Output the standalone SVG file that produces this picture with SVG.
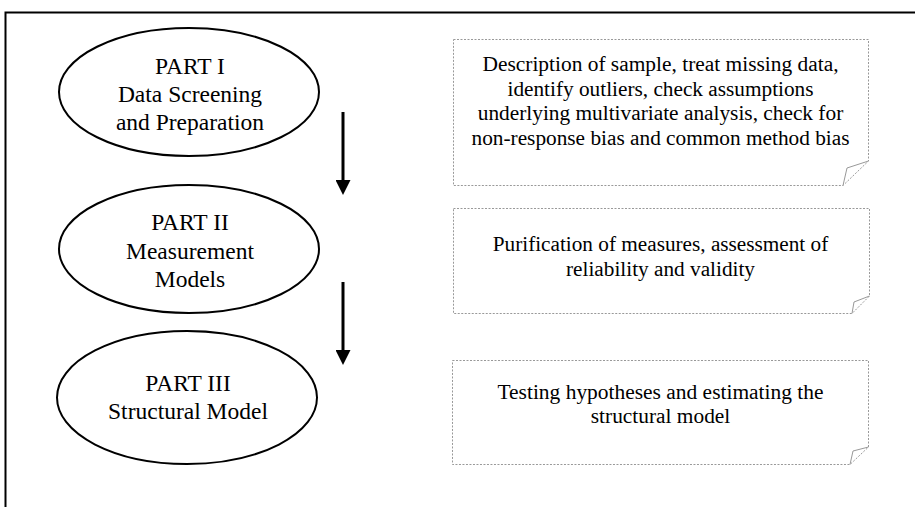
<svg xmlns="http://www.w3.org/2000/svg" width="915" height="507" viewBox="0 0 915 507">
<defs>
<style>
.frame{fill:none;stroke:#000;stroke-width:2}
.ell{fill:#fff;stroke:#000;stroke-width:2}
.note{fill:#fff;stroke:#999;stroke-width:1;stroke-dasharray:2,1.5}
.fold{fill:none;stroke:#999;stroke-width:1}
.t1{font-family:"Liberation Serif","Times New Roman",serif;font-size:23.5px;fill:#000;text-anchor:middle}
.t2{font-family:"Liberation Serif","Times New Roman",serif;font-size:20.5px;fill:#000;text-anchor:middle}
.arr{stroke:#000;stroke-width:3}
</style>
<marker id="ah" markerWidth="5" markerHeight="5" refX="0" refY="2.5" orient="auto" markerUnits="strokeWidth">
<path d="M0,0 L5,2.5 L0,5 Z" fill="#000"/>
</marker>
</defs>
<rect class="frame" x="5.5" y="12.5" width="1000" height="1000"/>
<g id="part1">
<ellipse class="ell" cx="189" cy="92" rx="130" ry="64"/>
<text class="t1" x="190" y="73.5">PART I</text>
<text class="t1" x="190" y="102">Data Screening</text>
<text class="t1" x="190" y="130">and Preparation</text>
</g>
<g id="part2">
<ellipse class="ell" cx="189" cy="249" rx="130" ry="64"/>
<text class="t1" x="190" y="230">PART II</text>
<text class="t1" x="190" y="258.5">Measurement</text>
<text class="t1" x="190" y="287">Models</text>
</g>
<g id="part3">
<ellipse class="ell" cx="187" cy="397.5" rx="130" ry="66.5"/>
<text class="t1" x="188" y="390.5">PART III</text>
<text class="t1" x="188" y="418.5">Structural Model</text>
</g>
<g id="note1">
<path class="note" d="M453.5,39.5 H868.5 V161 L843,185.5 H453.5 Z"/>
<path class="fold" d="M843,185.5 L847,168 L868.5,161"/>
<text class="t2" x="660.5" y="71" textLength="356" lengthAdjust="spacingAndGlyphs">Description of sample, treat missing data,</text>
<text class="t2" x="660.5" y="95.5" textLength="306" lengthAdjust="spacingAndGlyphs">identify outliers, check assumptions</text>
<text class="t2" x="660.5" y="120" textLength="365.5" lengthAdjust="spacingAndGlyphs">underlying multivariate analysis, check for</text>
<text class="t2" x="660.5" y="144.5" textLength="378" lengthAdjust="spacingAndGlyphs">non-response bias and common method bias</text>
</g>
<g id="note2">
<path class="note" d="M453.5,208.5 H869.5 V296 L852,313.5 H453.5 Z"/>
<path class="fold" d="M852,313.5 L854,302 L869.5,296"/>
<text class="t2" x="660.5" y="251" textLength="335.5" lengthAdjust="spacingAndGlyphs">Purification of measures, assessment of</text>
<text class="t2" x="660.5" y="275.5" textLength="189" lengthAdjust="spacingAndGlyphs">reliability and validity</text>
</g>
<g id="note3">
<path class="note" d="M452.5,360.5 H868.5 V447 L850,464.5 H452.5 Z"/>
<path class="fold" d="M850,464.5 L853,451 L868.5,447"/>
<text class="t2" x="660.5" y="398.5" textLength="326" lengthAdjust="spacingAndGlyphs">Testing hypotheses and estimating the</text>
<text class="t2" x="660.5" y="422.5" textLength="139.5" lengthAdjust="spacingAndGlyphs">structural model</text>
</g>
<g id="connectors">
<line class="arr" x1="343" y1="112" x2="343" y2="180" marker-end="url(#ah)"/>
<line class="arr" x1="343" y1="282" x2="343" y2="350" marker-end="url(#ah)"/>
</g>
</svg>
